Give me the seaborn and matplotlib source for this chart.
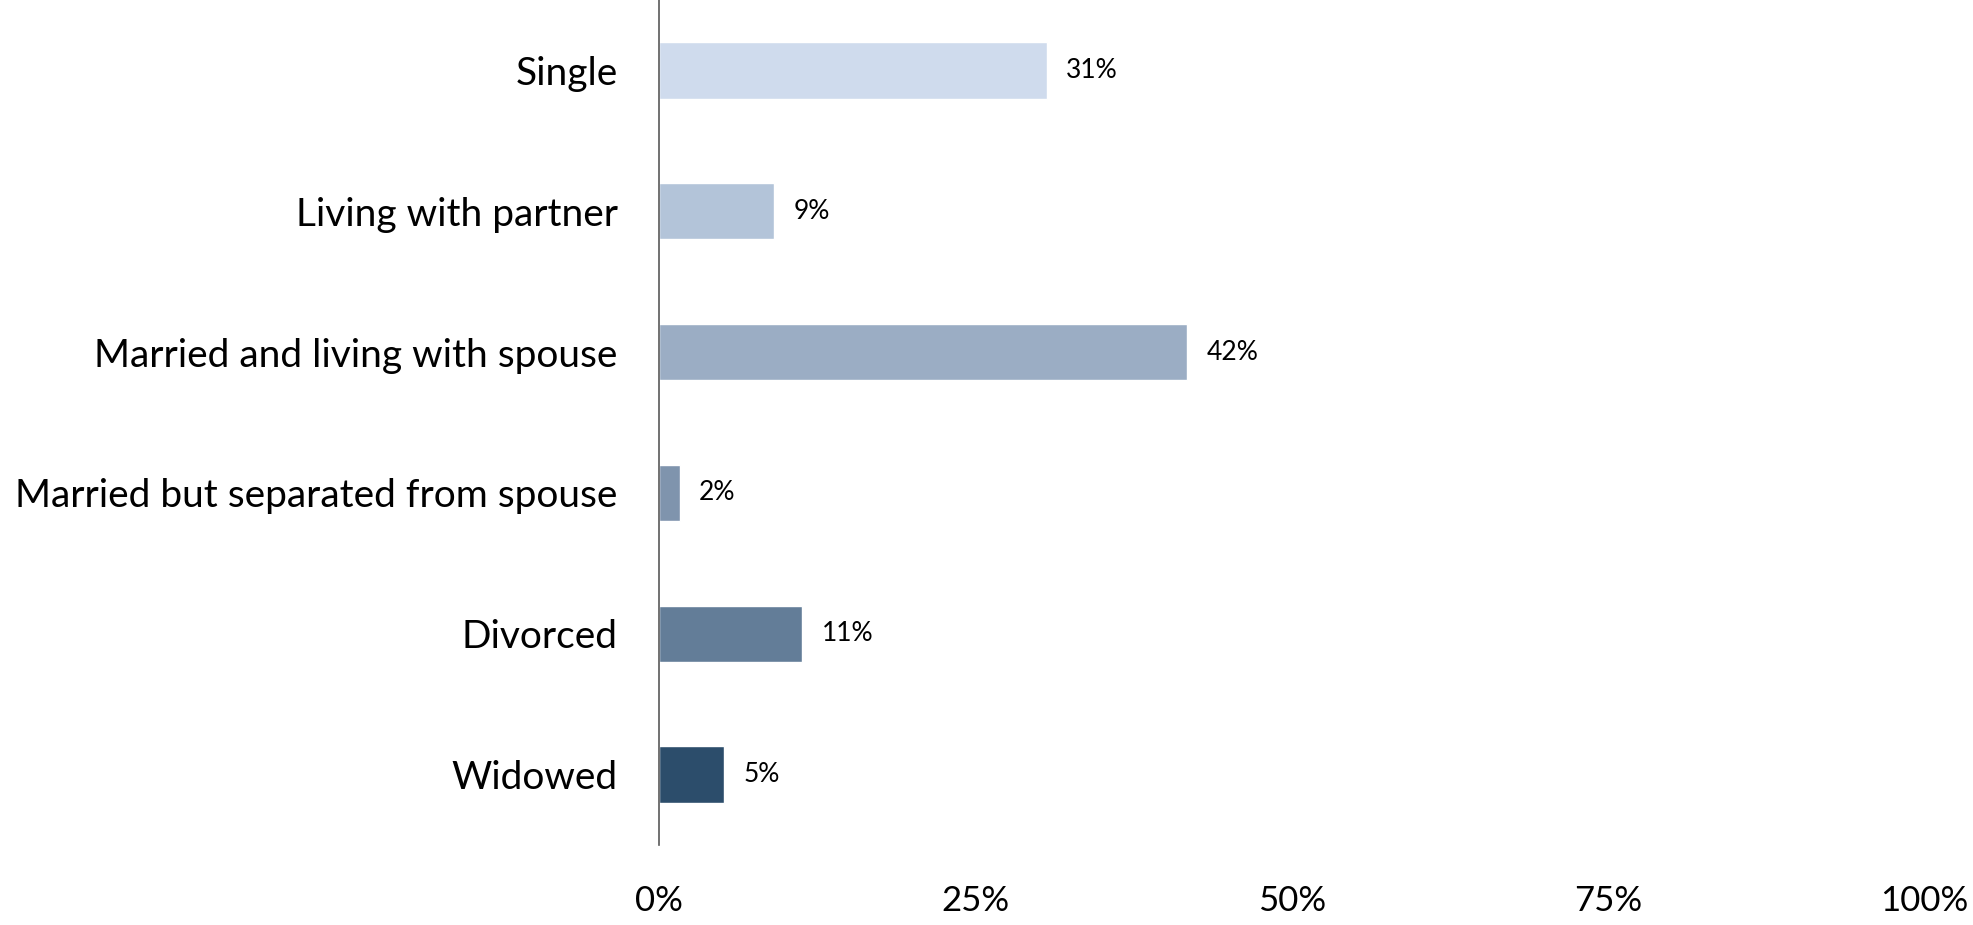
import matplotlib
matplotlib.use("Agg")
import matplotlib.pyplot as plt
import seaborn as sns
import pandas as pd

sns.set_theme(style="white")
plt.rcParams["font.family"] = ["Lato", "DejaVu Sans"]

# data
status = ["Single", "Living with partner", "Married and living with spouse",
          "Married but separated from spouse", "Divorced", "Widowed"]
share = [30.6, 9.1, 41.7, 1.6, 11.3, 5.1]
share_labels = ["31%", "9%", "42%", "2%", "11%", "5%"]
bar_colors = ["#CFDBED", "#B3C4D9", "#9BADC4", "#7F94AD", "#637D98", "#2C4D6B"]
xticks = [0, 25, 50, 75, 100]
xtick_labels = ["0%", "25%", "50%", "75%", "100%"]

df = pd.DataFrame({"status": status, "share": share})

fig = plt.figure(figsize=(19.74, 9.25), dpi=100)
ax = fig.add_axes([0.334, 0.0865, 0.641, 0.9135])

sns.barplot(data=df, y="status", x="share", hue="status", palette=bar_colors,
            order=status, hue_order=status, width=0.4, legend=False,
            saturation=1, ax=ax)

for cont, lab in zip(ax.containers, share_labels):
    ax.bar_label(cont, labels=[lab], padding=14, fontsize=19, color="black")

ax.set_xlim(0, 100)
ax.set_ylim(5.5, -0.5)
ax.set_xticks(xticks)
ax.set_xticklabels(xtick_labels, fontsize=25, color="black")
ax.tick_params(axis="y", labelsize=28, pad=30, length=0, labelcolor="black")
ax.tick_params(axis="x", pad=29, length=0)
ax.set_xlabel("")
ax.set_ylabel("")

for side in ["top", "right", "bottom"]:
    ax.spines[side].set_visible(False)
ax.spines["left"].set_color("#595959")
ax.spines["left"].set_linewidth(1.2)

fig.savefig("out.png", dpi=100)
